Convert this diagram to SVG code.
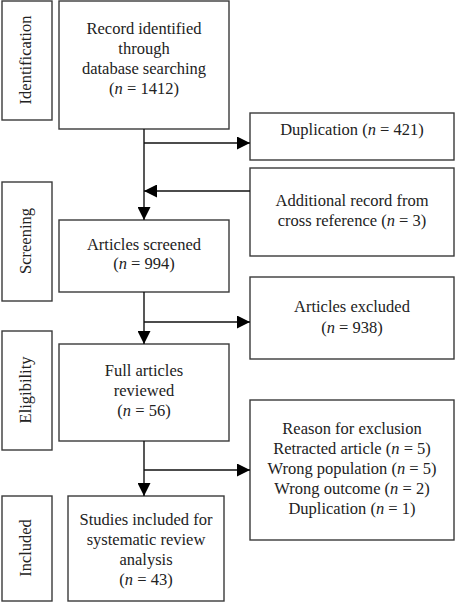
<svg xmlns="http://www.w3.org/2000/svg" width="455" height="602" viewBox="0 0 455 602">
<style>
.box{fill:#fff;stroke:#3a3a3a;stroke-width:1.4}
.t{font-family:"Liberation Serif","Times New Roman",serif;font-size:16.5px;fill:#222;text-anchor:middle}
.c{fill:none;stroke:#111;stroke-width:1.4}
.i{font-style:italic}
</style>
<defs>
<marker id="ah" markerUnits="userSpaceOnUse" markerWidth="13" markerHeight="13" viewBox="0 0 12 12" refX="12" refY="6" orient="auto">
<path d="M0,0 L12,6 L0,12 Z" fill="#000"/>
</marker>
</defs>
<rect width="455" height="602" fill="#fff"/>
<g id="stage-identification"><rect class="box" x="2" y="1" width="50" height="119"/><text class="t" transform="translate(31,60) rotate(-90)">Identification</text></g>
<g id="stage-screening"><rect class="box" x="2" y="182" width="50" height="119"/><text class="t" transform="translate(31,241) rotate(-90)">Screening</text></g>
<g id="stage-eligibility"><rect class="box" x="2" y="331" width="50" height="119"/><text class="t" transform="translate(31,390) rotate(-90)">Eligibility</text></g>
<g id="stage-included"><rect class="box" x="2" y="496" width="50" height="105"/><text class="t" transform="translate(31,548) rotate(-90)">Included</text></g>
<g id="n-records"><rect class="box" x="59" y="1" width="170" height="128"/>
<text class="t" x="144" y="34">Record identified</text><text class="t" x="144" y="54">through</text><text class="t" x="144" y="74">database searching</text><text class="t" x="144" y="94">(<tspan class="i">n</tspan> = 1412)</text></g>
<g id="n-duplication"><rect class="box" x="250" y="113" width="204" height="47"/>
<text class="t" x="352" y="135">Duplication (<tspan class="i">n</tspan> = 421)</text></g>
<g id="n-additional"><rect class="box" x="250" y="168" width="204" height="88"/>
<text class="t" x="352" y="206">Additional record from</text><text class="t" x="352" y="226">cross reference (<tspan class="i">n</tspan> = 3)</text></g>
<g id="n-screened"><rect class="box" x="59" y="220" width="170" height="72"/>
<text class="t" x="144" y="250">Articles screened</text><text class="t" x="144" y="269">(<tspan class="i">n</tspan> = 994)</text></g>
<g id="n-excluded"><rect class="box" x="250" y="277" width="204" height="82"/>
<text class="t" x="352" y="312">Articles excluded</text><text class="t" x="352" y="333">(<tspan class="i">n</tspan> = 938)</text></g>
<g id="n-full"><rect class="box" x="59" y="344" width="170" height="97"/>
<text class="t" x="144" y="376">Full articles</text><text class="t" x="144" y="396">reviewed</text><text class="t" x="144" y="416">(<tspan class="i">n</tspan> = 56)</text></g>
<g id="n-reasons"><rect class="box" x="250" y="400" width="204" height="140"/>
<text class="t" x="352" y="434">Reason for exclusion</text><text class="t" x="352" y="454">Retracted article (<tspan class="i">n</tspan> = 5)</text><text class="t" x="352" y="474">Wrong population (<tspan class="i">n</tspan> = 5)</text><text class="t" x="352" y="494">Wrong outcome (<tspan class="i">n</tspan> = 2)</text><text class="t" x="352" y="514">Duplication (<tspan class="i">n</tspan> = 1)</text></g>
<g id="n-included"><rect class="box" x="68" y="496" width="156" height="105"/>
<text class="t" x="146" y="525">Studies included for</text><text class="t" x="146" y="545">systematic review</text><text class="t" x="146" y="565">analysis</text><text class="t" x="146" y="585">(<tspan class="i">n</tspan> = 43)</text></g>
<g id="connectors">
<path class="c" d="M144,129 V220" marker-end="url(#ah)"/>
<path class="c" d="M144,143 H250" marker-end="url(#ah)"/>
<path class="c" d="M250,191 H144" marker-end="url(#ah)"/>
<path class="c" d="M144,292 V344" marker-end="url(#ah)"/>
<path class="c" d="M144,322 H250" marker-end="url(#ah)"/>
<path class="c" d="M144,441 V496" marker-end="url(#ah)"/>
<path class="c" d="M144,470 H250" marker-end="url(#ah)"/>
</g>
</svg>
